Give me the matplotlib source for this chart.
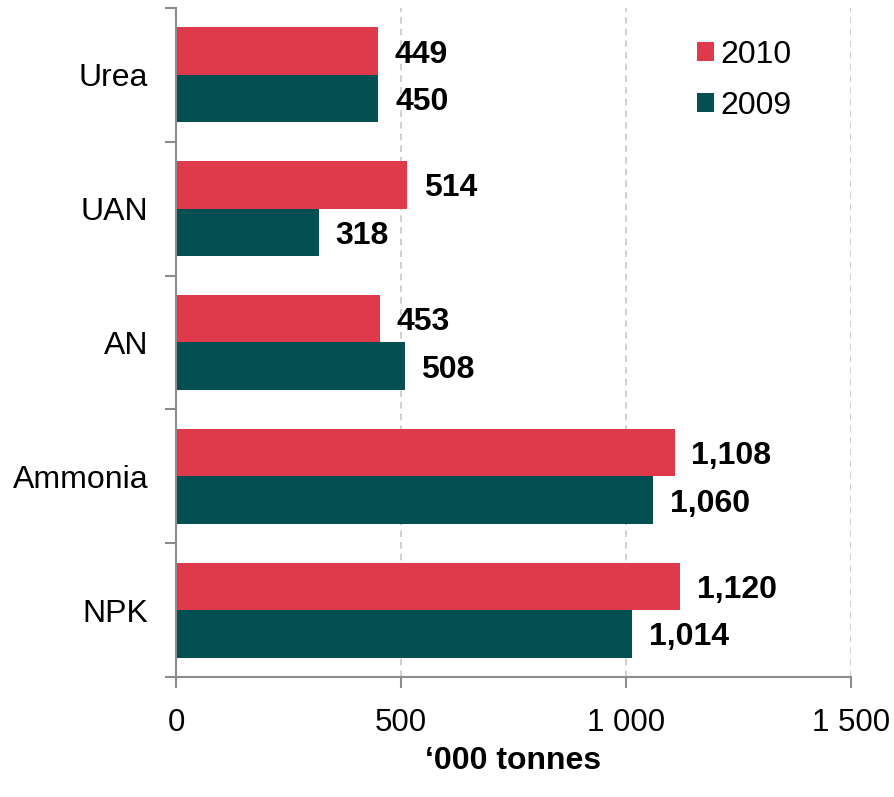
import matplotlib.pyplot as plt
import numpy as np

plt.rcParams["font.family"] = ["Liberation Sans", "DejaVu Sans"]

categories = ["Urea", "UAN", "AN", "Ammonia", "NPK"]
values_2010 = [449, 514, 453, 1108, 1120]
values_2009 = [450, 318, 508, 1060, 1014]
labels_2010 = ["449", "514", "453", "1,108", "1,120"]
labels_2009 = ["450", "318", "508", "1,060", "1,014"]
xticks = [0, 500, 1000, 1500]
xtick_labels = ["0", "500", "1 000", "1 500"]

red = "#DE3A4B"
teal = "#034F52"
axis_grey = "#8C8C8C"

fig = plt.figure(figsize=(8.95, 7.97), dpi=100)
ax = fig.add_axes([0.1966, 0.1506, 0.7542, 0.8394])

y = np.arange(len(categories))
h = 0.355
bars_red = ax.barh(y - h / 2, values_2010, height=h, color=red, label="2010")
bars_teal = ax.barh(y + h / 2, values_2009, height=h, color=teal, label="2009")

for bar, lab in zip(bars_red, labels_2010):
    ax.annotate(lab, (bar.get_width(), bar.get_y() + bar.get_height() / 2),
                xytext=(12, 0), textcoords="offset points", va="center_baseline",
                fontsize=23, fontweight="bold")
for bar, lab in zip(bars_teal, labels_2009):
    ax.annotate(lab, (bar.get_width(), bar.get_y() + bar.get_height() / 2),
                xytext=(12, 0), textcoords="offset points", va="center_baseline",
                fontsize=23, fontweight="bold")

ax.set_xlim(0, 1500)
ax.set_ylim(len(categories) - 0.5, -0.5)

ax.set_xticks(xticks)
ax.set_xticklabels(xtick_labels, fontsize=22.5)
ax.set_yticks(y)
ax.set_yticklabels(categories, fontsize=23)
ax.set_yticks(np.arange(len(categories) + 1) - 0.5, minor=True)
ax.tick_params(axis="y", which="major", length=0, pad=20)
ax.tick_params(axis="y", which="minor", length=8, width=1.5, color=axis_grey)
ax.tick_params(axis="x", length=8, width=1.5, color=axis_grey, pad=14)

for x in xticks[1:]:
    ax.axvline(x, color="#C8C8C8", linestyle=(0, (4, 3)), linewidth=1.2, zorder=0)

ax.spines["top"].set_visible(False)
ax.spines["right"].set_visible(False)
ax.spines["left"].set_color(axis_grey)
ax.spines["bottom"].set_color(axis_grey)
ax.spines["left"].set_linewidth(1.5)
ax.spines["bottom"].set_linewidth(1.5)

ax.set_xlabel("\u2018000 tonnes", fontsize=23, fontweight="bold", labelpad=6)

ax.legend(loc="upper left", bbox_to_anchor=(0.729, 0.995), frameon=False,
          fontsize=23, handlelength=0.55, handleheight=0.55, handletextpad=0.2,
          labelspacing=0.66)

fig.savefig("out.png", dpi=100)
